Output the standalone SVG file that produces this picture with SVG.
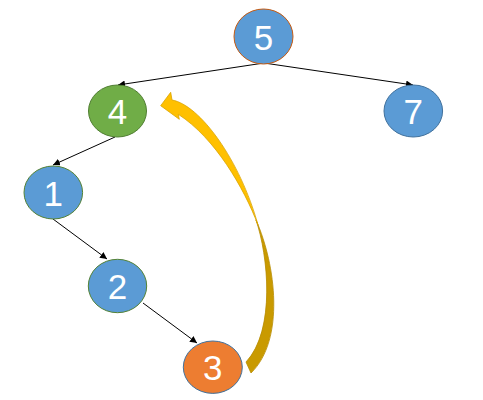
<svg xmlns="http://www.w3.org/2000/svg" width="483" height="400" viewBox="0 0 483 400">
<defs>
<style>
.n{stroke-width:1}
.t{font-family:"Liberation Sans",Arial,sans-serif;font-size:35px;fill:#fff;text-anchor:middle;dominant-baseline:central}
.e{stroke:#000;stroke-width:1;fill:none;marker-end:url(#ah)}
</style>
<marker id="ah" viewBox="0 0 10 10" refX="10" refY="5" markerWidth="7" markerHeight="7" markerUnits="userSpaceOnUse" orient="auto">
<path d="M0,0 L10,5 L0,10 Z" fill="#000"/>
</marker>
</defs>
<rect width="483" height="400" fill="#fff"/>
<g id="connectors">
<line class="e" x1="264" y1="63" x2="118" y2="85"/>
<line class="e" x1="264" y1="63" x2="413" y2="85"/>
<line class="e" x1="115" y1="137" x2="53" y2="165"/>
<line class="e" x1="53" y1="219" x2="107" y2="259"/>
<line class="e" x1="143" y1="303" x2="197" y2="343"/>
<g id="curved-arrow">
<path d="M256,220 C268,255 276,330 246,362 L251,373 C285,340 276,265 256,220 Z" fill="#C99A00" stroke="#B88C00" stroke-width="0.8"/>
<path d="M160.7,105.7 L170.7,92.3 L172,100 C200,105 240,160 258,225 C244,188 215,138 178.3,114.3 L179.3,119.3 Z" fill="#FFC000" stroke="#D9A300" stroke-width="0.8"/>
</g>
</g>
<g id="node5"><ellipse class="n" cx="263.5" cy="36.5" rx="29.5" ry="27.5" fill="#5B9BD5" stroke="#C55A11"/><text class="t" x="263.5" y="37">5</text></g>
<g id="node4"><ellipse class="n" cx="117.5" cy="111" rx="29" ry="26" fill="#70AD47" stroke="#507E32"/><text class="t" x="117.5" y="111.5">4</text></g>
<g id="node7"><ellipse class="n" cx="413.3" cy="111" rx="29.3" ry="26" fill="#5B9BD5" stroke="#41719C"/><text class="t" x="413.3" y="111.5">7</text></g>
<g id="node1"><ellipse class="n" cx="53.3" cy="192.5" rx="29.3" ry="26.5" fill="#5B9BD5" stroke="#548235"/><text class="t" x="53.3" y="193">1</text></g>
<g id="node2"><ellipse class="n" cx="117.5" cy="286" rx="29.2" ry="26.7" fill="#5B9BD5" stroke="#548235"/><text class="t" x="117.5" y="286.5">2</text></g>
<g id="node3"><ellipse class="n" cx="212.8" cy="367.2" rx="29.5" ry="26.2" fill="#ED7D31" stroke="#41719C"/><text class="t" x="212.8" y="367.5">3</text></g>
</svg>
